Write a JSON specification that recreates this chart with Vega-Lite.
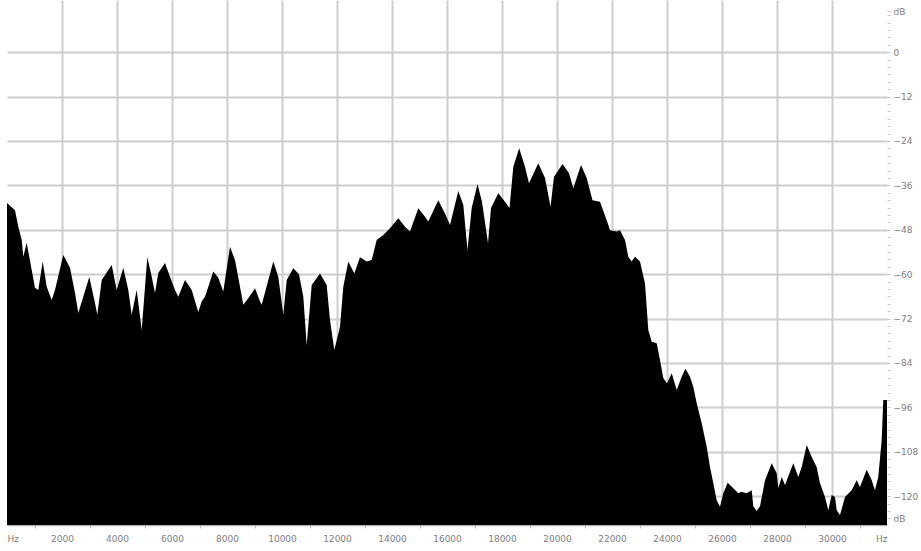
{
  "$schema": "https://vega.github.io/schema/vega-lite/v6.json",
  "autosize": {"type": "none"},
  "padding": {"left": 7, "top": 0, "right": 34, "bottom": 26},
  "width": 880,
  "height": 525,
  "background": "white",
  "config": {"view": {"stroke": null}, "font": "DejaVu Sans"},
  "data": {"values": [
    {"hz": 0, "db": -40.8}, {"hz": 291, "db": -42.7}, {"hz": 411, "db": -47.2}, {"hz": 535, "db": -50.8},
    {"hz": 593, "db": -55.3}, {"hz": 716, "db": -51.5}, {"hz": 898, "db": -58.9}, {"hz": 1018, "db": -63.7},
    {"hz": 1138, "db": -64.3}, {"hz": 1298, "db": -56.6}, {"hz": 1444, "db": -63.4}, {"hz": 1625, "db": -67.0},
    {"hz": 1745, "db": -64.3}, {"hz": 2047, "db": -54.8}, {"hz": 2291, "db": -58.3}, {"hz": 2473, "db": -65.1},
    {"hz": 2593, "db": -70.5}, {"hz": 2993, "db": -60.8}, {"hz": 3200, "db": -67.8}, {"hz": 3284, "db": -71.0},
    {"hz": 3444, "db": -61.6}, {"hz": 3807, "db": -57.5}, {"hz": 3989, "db": -64.3}, {"hz": 4229, "db": -58.3},
    {"hz": 4411, "db": -64.3}, {"hz": 4535, "db": -71.0}, {"hz": 4716, "db": -64.3}, {"hz": 4898, "db": -75.1},
    {"hz": 5102, "db": -55.4}, {"hz": 5262, "db": -60.7}, {"hz": 5382, "db": -65.1}, {"hz": 5502, "db": -59.7},
    {"hz": 5745, "db": -57.0}, {"hz": 5927, "db": -60.7}, {"hz": 6109, "db": -64.3}, {"hz": 6229, "db": -66.1},
    {"hz": 6473, "db": -61.6}, {"hz": 6716, "db": -64.3}, {"hz": 6956, "db": -70.2}, {"hz": 7080, "db": -67.4},
    {"hz": 7200, "db": -66.1}, {"hz": 7502, "db": -59.3}, {"hz": 7684, "db": -61.0}, {"hz": 7865, "db": -64.7},
    {"hz": 8109, "db": -52.6}, {"hz": 8291, "db": -56.2}, {"hz": 8473, "db": -63.4}, {"hz": 8593, "db": -68.3},
    {"hz": 8774, "db": -66.5}, {"hz": 9018, "db": -63.8}, {"hz": 9200, "db": -67.4}, {"hz": 9262, "db": -68.3},
    {"hz": 9684, "db": -56.6}, {"hz": 9865, "db": -60.7}, {"hz": 10047, "db": -71.0}, {"hz": 10171, "db": -61.6},
    {"hz": 10411, "db": -58.4}, {"hz": 10618, "db": -60.0}, {"hz": 10775, "db": -66.1}, {"hz": 10898, "db": -79.2},
    {"hz": 11080, "db": -62.9}, {"hz": 11382, "db": -59.8}, {"hz": 11625, "db": -62.9}, {"hz": 11745, "db": -72.4},
    {"hz": 11902, "db": -80.5}, {"hz": 12109, "db": -74.2}, {"hz": 12229, "db": -63.4}, {"hz": 12411, "db": -56.6},
    {"hz": 12629, "db": -59.8}, {"hz": 12836, "db": -55.4}, {"hz": 13080, "db": -56.6}, {"hz": 13262, "db": -56.2},
    {"hz": 13443, "db": -50.8}, {"hz": 13684, "db": -49.4}, {"hz": 13927, "db": -47.6}, {"hz": 14229, "db": -44.9},
    {"hz": 14473, "db": -47.2}, {"hz": 14655, "db": -48.5}, {"hz": 14956, "db": -42.2}, {"hz": 15200, "db": -44.5},
    {"hz": 15320, "db": -45.8}, {"hz": 15684, "db": -40.0}, {"hz": 15927, "db": -43.6}, {"hz": 16109, "db": -46.7},
    {"hz": 16411, "db": -37.5}, {"hz": 16593, "db": -41.3}, {"hz": 16745, "db": -53.5}, {"hz": 16898, "db": -42.1},
    {"hz": 17109, "db": -35.6}, {"hz": 17273, "db": -40.5}, {"hz": 17491, "db": -51.6}, {"hz": 17600, "db": -42.1},
    {"hz": 17865, "db": -38.1}, {"hz": 18109, "db": -40.4}, {"hz": 18273, "db": -42.1}, {"hz": 18411, "db": -31.0},
    {"hz": 18625, "db": -26.0}, {"hz": 18836, "db": -31.0}, {"hz": 18982, "db": -35.4}, {"hz": 19320, "db": -30.0},
    {"hz": 19564, "db": -34.0}, {"hz": 19764, "db": -41.8}, {"hz": 19891, "db": -33.7}, {"hz": 20200, "db": -30.2},
    {"hz": 20436, "db": -32.7}, {"hz": 20593, "db": -36.8}, {"hz": 20873, "db": -30.5}, {"hz": 21080, "db": -34.0},
    {"hz": 21291, "db": -40.0}, {"hz": 21564, "db": -40.4}, {"hz": 21807, "db": -45.4}, {"hz": 21927, "db": -48.1},
    {"hz": 22171, "db": -48.5}, {"hz": 22291, "db": -48.1}, {"hz": 22473, "db": -50.8}, {"hz": 22593, "db": -55.3},
    {"hz": 22716, "db": -56.6}, {"hz": 22836, "db": -55.3}, {"hz": 23018, "db": -56.6}, {"hz": 23200, "db": -62.5},
    {"hz": 23320, "db": -75.1}, {"hz": 23444, "db": -78.3}, {"hz": 23625, "db": -78.7}, {"hz": 23745, "db": -83.2},
    {"hz": 23865, "db": -88.1}, {"hz": 24000, "db": -89.5}, {"hz": 24171, "db": -86.8}, {"hz": 24353, "db": -91.3},
    {"hz": 24533, "db": -87.7}, {"hz": 24673, "db": -85.6}, {"hz": 24836, "db": -87.7}, {"hz": 24956, "db": -90.4},
    {"hz": 25080, "db": -94.9}, {"hz": 25262, "db": -100.3}, {"hz": 25442, "db": -106.6}, {"hz": 25564, "db": -112.1},
    {"hz": 25684, "db": -116.5}, {"hz": 25807, "db": -121.1}, {"hz": 25927, "db": -122.9}, {"hz": 26047, "db": -119.2},
    {"hz": 26207, "db": -116.4}, {"hz": 26411, "db": -117.9}, {"hz": 26593, "db": -119.2}, {"hz": 26716, "db": -118.8},
    {"hz": 26898, "db": -119.2}, {"hz": 27080, "db": -118.4}, {"hz": 27138, "db": -122.7}, {"hz": 27262, "db": -124.0},
    {"hz": 27382, "db": -122.7}, {"hz": 27564, "db": -115.7}, {"hz": 27807, "db": -111.1}, {"hz": 27989, "db": -113.8},
    {"hz": 28047, "db": -117.8}, {"hz": 28171, "db": -114.8}, {"hz": 28291, "db": -117.0}, {"hz": 28593, "db": -111.1},
    {"hz": 28774, "db": -114.8}, {"hz": 28898, "db": -112.1}, {"hz": 29080, "db": -106.2}, {"hz": 29262, "db": -109.4},
    {"hz": 29442, "db": -112.1}, {"hz": 29564, "db": -116.5}, {"hz": 29745, "db": -120.2}, {"hz": 29865, "db": -123.8},
    {"hz": 29989, "db": -119.7}, {"hz": 30109, "db": -120.2}, {"hz": 30171, "db": -123.8}, {"hz": 30291, "db": -125.1},
    {"hz": 30473, "db": -120.2}, {"hz": 30715, "db": -118.4}, {"hz": 30898, "db": -115.7}, {"hz": 31018, "db": -117.5},
    {"hz": 31262, "db": -112.9}, {"hz": 31444, "db": -115.7}, {"hz": 31562, "db": -118.4}, {"hz": 31682, "db": -114.8},
    {"hz": 31807, "db": -104.8}, {"hz": 31865, "db": -94.0}, {"hz": 32000, "db": -94.0}
  ]},
  "mark": {"type": "area", "color": "#000000", "interpolate": "linear", "opacity": 1},
  "encoding": {
    "x": {
      "field": "hz", "type": "quantitative", "title": null,
      "scale": {"domain": [0, 32000], "nice": false, "zero": false},
      "axis": {
        "values": [0, 1000, 2000, 3000, 4000, 5000, 6000, 7000, 8000, 9000, 10000, 11000, 12000, 13000, 14000, 15000, 16000, 17000, 18000, 19000, 20000, 21000, 22000, 23000, 24000, 25000, 26000, 27000, 28000, 29000, 30000, 31000, 32000],
        "format": "d",
        "labelExpr": "datum.value == 0 || datum.value == 32000 ? 'Hz' : (datum.value % 2000 == 0 ? datum.label : '')",
        "labelFlush": true,
        "labelOverlap": false,
        "labelFontSize": 9,
        "labelColor": "#808080",
        "labelPadding": 6,
        "domain": true,
        "domainColor": "#b0b0b0",
        "domainWidth": 1.5,
        "ticks": true,
        "tickSize": 3,
        "tickColor": {"condition": {"test": "datum.value % 2000 == 0", "value": "rgba(0,0,0,0)"}, "value": "#bbbbbb"},
        "grid": true,
        "gridColor": "#cecece",
        "gridWidth": 2,
        "gridOpacity": {"condition": {"test": "datum.value % 2000 == 0 && datum.value > 0 && datum.value < 32000", "value": 1}, "value": 0}
      }
    },
    "y": {
      "field": "db", "type": "quantitative", "title": null,
      "scale": {"domain": [-127.8, 14.1], "nice": false, "zero": false},
      "axis": {
        "orient": "right",
        "values": [11, 10, 8, 6, 4, 2, 0, -2, -4, -6, -8, -10, -12, -14, -16, -18, -20, -22, -24, -26, -28, -30, -32, -34, -36, -38, -40, -42, -44, -46, -48, -50, -52, -54, -56, -58, -60, -62, -64, -66, -68, -70, -72, -74, -76, -78, -80, -82, -84, -86, -88, -90, -92, -94, -96, -98, -100, -102, -104, -106, -108, -110, -112, -114, -116, -118, -120, -122, -124, -126],
        "labelExpr": "datum.value == 11 || datum.value == -126 ? 'dB' : (datum.value % 12 == 0 ? datum.label : '')",
        "labelOverlap": false,
        "labelFontSize": 9,
        "labelColor": "#808080",
        "labelPadding": 3,
        "labelAlign": "left",
        "domain": false,
        "ticks": true,
        "tickSize": 3,
        "tickColor": "#c8c8c8",
        "grid": true,
        "gridColor": "#cecece",
        "gridWidth": 2,
        "gridOpacity": {"condition": {"test": "datum.value % 12 == 0 && datum.value <= 0 && datum.value >= -120", "value": 1}, "value": 0}
      }
    },
    "y2": {"datum": -127.8}
  }
}
